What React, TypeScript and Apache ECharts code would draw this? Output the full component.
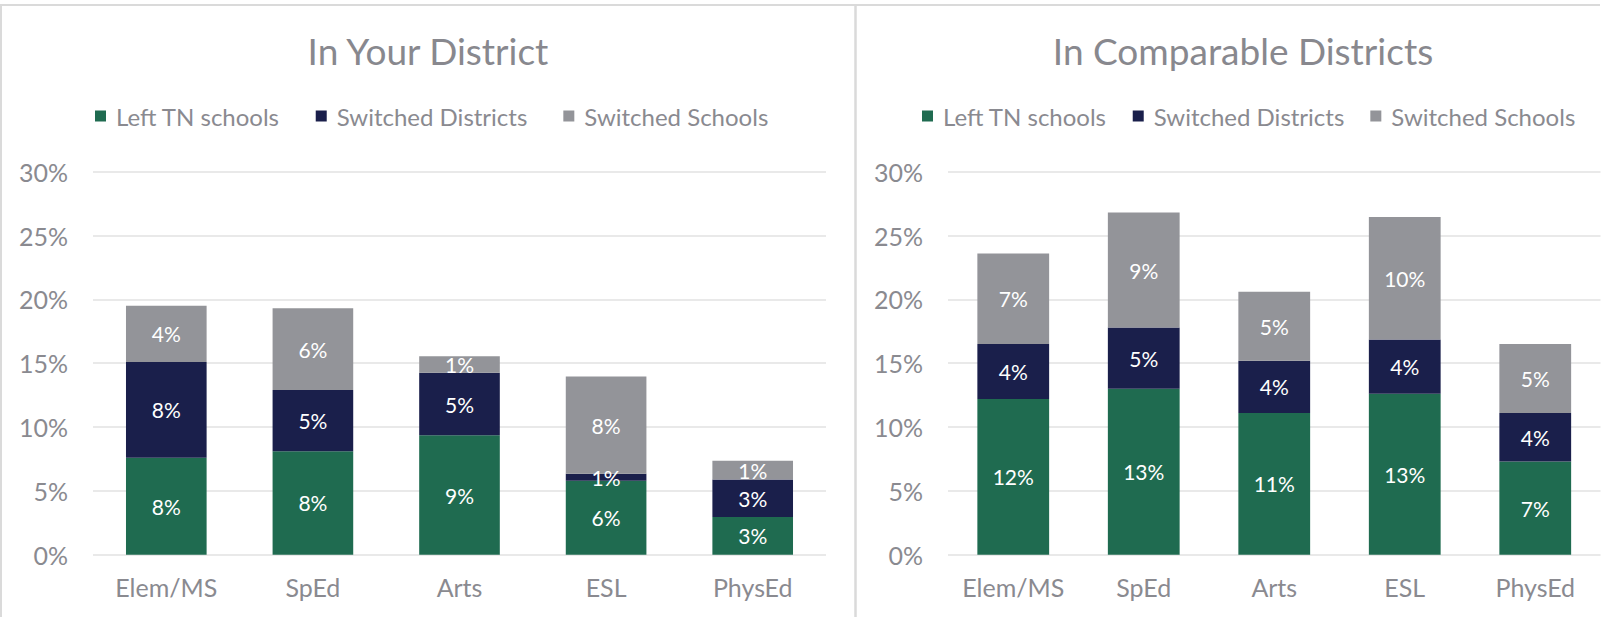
import React, { useEffect, useRef } from "react";
import * as echarts from "echarts";

const categories = ["Elem/MS", "SpEd", "Arts", "ESL", "PhysEd"];
const seriesNames = ["Left TN schools", "Switched Districts", "Switched Schools"];
const yourLeftTN = [7.6, 8.1, 9.35, 5.8, 2.95];
const yourSwitchedDistricts = [7.5, 4.8, 4.9, 0.55, 2.95];
const yourSwitchedSchools = [4.4, 6.4, 1.3, 7.6, 1.45];
const compLeftTN = [12.2, 13.0, 11.1, 12.6, 7.3];
const compSwitchedDistricts = [4.3, 4.8, 4.1, 4.25, 3.8];
const compSwitchedSchools = [7.1, 9.0, 5.4, 9.6, 5.4];
const yTicks = { min: 0, max: 30, interval: 5 };
const titles = ["In Your District", "In Comparable Districts"];

const COLORS = ["#1f6b50", "#1a1f4b", "#939499"];
const FONT = "Lato, sans-serif";
const GREY_TEXT = "#8a8a90";

export default function App() {
  const ref = useRef<HTMLDivElement>(null);
  useEffect(() => {
    if (!ref.current) return;
    const chart = echarts.init(ref.current, undefined, { renderer: "svg" });
    const panels = [
      [yourLeftTN, yourSwitchedDistricts, yourSwitchedSchools],
      [compLeftTN, compSwitchedDistricts, compSwitchedSchools],
    ];
    const series: any[] = [];
    panels.forEach((sets, gi) => {
      sets.forEach((vals, si) => {
        series.push({
          name: seriesNames[si],
          type: "bar",
          stack: "s" + gi,
          xAxisIndex: gi,
          yAxisIndex: gi,
          barWidth: "55%",
          data: vals,
          itemStyle: { color: COLORS[si] },
          label: {
            show: true,
            position: "inside",
            color: "#ffffff",
            fontFamily: FONT,
            fontSize: 21,
            formatter: (p: any) => Math.round(p.value) + "%",
          },
        });
      });
    });
    const grids = [
      { left: 93, top: 171.7, width: 733, height: 383 },
      { left: 948, top: 171.7, width: 652.5, height: 383 },
    ];
    const titleCenters = [428, 1243];
    const legendLefts = [95, 922];
    const legendGaps = [36, 26];
    const option: any = {
      animation: false,
      textStyle: { fontFamily: FONT },
      title: titleCenters.map((c, i) => ({
        text: titles[i],
        left: c,
        top: 32,
        textAlign: "center",
        padding: 0,
        textStyle: { fontFamily: FONT, fontSize: 37, fontWeight: "normal", color: "#88888e" },
      })),
      legend: legendLefts.map((l, i) => ({
        data: seriesNames,
        left: l,
        top: 104,
        width: 760,
        padding: 0,
        orient: "horizontal",
        itemWidth: 11,
        itemHeight: 11,
        itemGap: legendGaps[i],
        icon: "rect",
        selectedMode: false,
        textStyle: { fontFamily: FONT, fontSize: 24, color: GREY_TEXT, padding: [0, 0, 0, 5] },
      })),
      grid: grids,
      xAxis: grids.map((_, i) => ({
        type: "category",
        gridIndex: i,
        data: categories,
        axisLine: { show: false },
        axisTick: { show: false },
        axisLabel: { interval: 0, fontFamily: FONT, fontSize: 25, color: GREY_TEXT, margin: 20 },
      })),
      yAxis: grids.map((_, i) => ({
        type: "value",
        gridIndex: i,
        min: yTicks.min,
        max: yTicks.max,
        interval: yTicks.interval,
        axisLine: { show: false },
        axisTick: { show: false },
        axisLabel: { fontFamily: FONT, fontSize: 25, color: GREY_TEXT, margin: 25, formatter: "{value}%" },
        splitLine: { lineStyle: { color: "#e2e2e2", width: 1.5 } },
      })),
      graphic: [
        { type: "line", shape: { x1: 0, y1: 5, x2: 1600, y2: 5 }, style: { stroke: "#dadada", lineWidth: 2 } },
        { type: "line", shape: { x1: 1, y1: 5, x2: 1, y2: 617 }, style: { stroke: "#dadada", lineWidth: 2 } },
        { type: "line", shape: { x1: 855.5, y1: 5, x2: 855.5, y2: 617 }, style: { stroke: "#dadada", lineWidth: 2.5 } },
      ],
      series,
    };
    chart.setOption(option);
    return () => chart.dispose();
  }, []);
  return (
    <div
      ref={ref}
      style={{ position: "fixed", left: 0, top: 0, width: 1619, height: 617, background: "#ffffff" }}
    />
  );
}
